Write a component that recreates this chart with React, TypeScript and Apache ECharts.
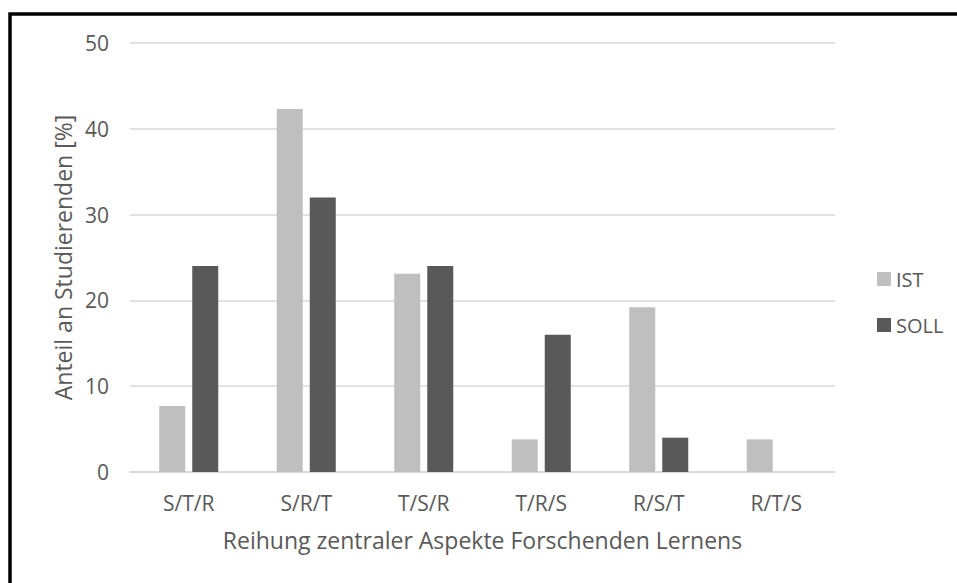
import React, { useEffect, useRef } from "react";
import * as echarts from "echarts";

const categories = ["S/T/R", "S/R/T", "T/S/R", "T/R/S", "R/S/T", "R/T/S"];
const istValues = [7.7, 42.3, 23.1, 3.8, 19.2, 3.8];
const sollValues = [24, 32, 24, 16, 4, 0];
const seriesNames = ["IST", "SOLL"];
const xAxisTitle = "Reihung zentraler Aspekte Forschenden Lernens";
const yAxisTitle = "Anteil an Studierenden [%]";

const FONT = "'Open Sans', sans-serif";
const TEXT = "#595959";

export default function App() {
  const ref = useRef<HTMLDivElement>(null);
  useEffect(() => {
    if (!ref.current) return;
    const chart = echarts.init(ref.current, undefined, { renderer: "svg" });
    chart.setOption({
      animation: false,
      backgroundColor: "#ffffff",
      textStyle: { fontFamily: FONT, color: TEXT },
      grid: { left: 130, right: 122, top: 43, bottom: 111, containLabel: false },
      legend: {
        orient: "vertical",
        left: 872,
        top: 264,
        itemWidth: 14,
        itemHeight: 14,
        itemGap: 26,
        icon: "rect",
        textStyle: { fontFamily: FONT, color: TEXT, fontSize: 20 },
        data: seriesNames,
      },
      xAxis: {
        type: "category",
        data: categories,
        axisLine: { lineStyle: { color: "#d9d9d9", width: 1.5 } },
        axisTick: { show: false },
        axisLabel: { color: TEXT, fontFamily: FONT, fontSize: 21, margin: 20 },
        name: xAxisTitle,
        nameLocation: "middle",
        nameGap: 56,
        nameTextStyle: { color: TEXT, fontFamily: FONT, fontSize: 23 },
      },
      yAxis: {
        type: "value",
        min: 0,
        max: 50,
        interval: 10,
        axisLine: { show: false },
        axisTick: { show: false },
        splitLine: { lineStyle: { color: "#d9d9d9", width: 1.5 } },
        axisLabel: { color: TEXT, fontFamily: FONT, fontSize: 21, margin: 21 },
        name: yAxisTitle,
        nameLocation: "middle",
        nameGap: 55,
        nameTextStyle: { color: TEXT, fontFamily: FONT, fontSize: 23 },
      },
      series: [
        {
          name: seriesNames[0],
          type: "bar",
          data: istValues,
          barWidth: 26,
          barGap: "27%",
          itemStyle: { color: "#bfbfbf" },
        },
        {
          name: seriesNames[1],
          type: "bar",
          data: sollValues,
          barWidth: 26,
          itemStyle: { color: "#595959" },
        },
      ],
      graphic: [
        {
          type: "rect",
          shape: { x: 10, y: 14, width: 2000, height: 2000 },
          style: { fill: "none", stroke: "#000000", lineWidth: 3.5 },
          silent: true,
        },
      ],
    });
    return () => chart.dispose();
  }, []);
  return <div ref={ref} style={{ position: "fixed", left: 0, top: 0, width: 957, height: 583 }} />;
}
